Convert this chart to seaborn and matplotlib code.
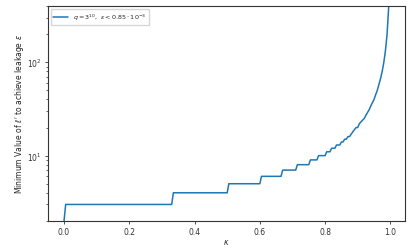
import matplotlib
matplotlib.use("Agg")
import matplotlib.pyplot as plt
import seaborn as sns

# kappa samples and minimum l' (step function, then steep tail)
kappa = [0.0, 0.005, 0.330, 0.335, 0.500, 0.505, 0.600, 0.605, 0.665, 0.670,
         0.710, 0.715, 0.750, 0.755, 0.775, 0.780, 0.800, 0.805, 0.815, 0.820,
         0.830, 0.835, 0.845, 0.850, 0.855, 0.860, 0.865, 0.870, 0.875, 0.880,
         0.885, 0.890, 0.895, 0.900, 0.905, 0.910, 0.915, 0.920, 0.925, 0.930,
         0.935, 0.940, 0.945, 0.950, 0.955, 0.960, 0.965, 0.970, 0.975, 0.980,
         0.985, 0.990, 0.995]
ell_min = [2, 3, 3, 4, 4, 5, 5, 6, 6, 7,
           7, 8, 8, 9, 9, 10, 10, 11, 11, 12,
           12, 13, 13, 14, 14, 15, 15, 16, 16, 17,
           18, 19, 20, 20, 22, 23, 24, 25, 27, 29,
           31, 34, 37, 40, 45, 50, 58, 67, 80, 100,
           134, 200, 400]

legend_label = r"$q=3^{10},\ \epsilon < 0.85\cdot10^{-3}$"

sns.set_style("ticks")
plt.rcParams["font.size"] = 5.5

fig, ax = plt.subplots(figsize=(4.15, 2.53), dpi=100)
fig.subplots_adjust(left=0.115, right=0.976, bottom=0.123, top=0.972)

sns.lineplot(x=kappa, y=ell_min, ax=ax, color="#1f77b4", linewidth=1.1,
             label=legend_label)
ax.set_yscale("log")
ax.set_ylim(2, 400)
ax.set_xlim(-0.05, 1.045)
ax.set_xlabel(r"$\kappa$", fontsize=5.5)
ax.set_ylabel(r"Minimum Value of $\ell'$ to achieve leakage $\epsilon$",
              fontsize=5.5)
ax.xaxis.set_label_coords(0.5, -0.075)
ax.yaxis.set_label_coords(-0.062, 0.5)
ax.tick_params(labelsize=5.5, length=2.5, width=0.6, colors="#333333", pad=2)
ax.tick_params(which="minor", length=1.5, width=0.5)
for s in ax.spines.values():
    s.set_linewidth(0.8)
    s.set_color("#333333")
ax.legend(loc="upper left", fontsize=4.6, frameon=True, fancybox=False,
          edgecolor="#cccccc", handlelength=2.2)

fig.savefig("out.png", dpi=100)
